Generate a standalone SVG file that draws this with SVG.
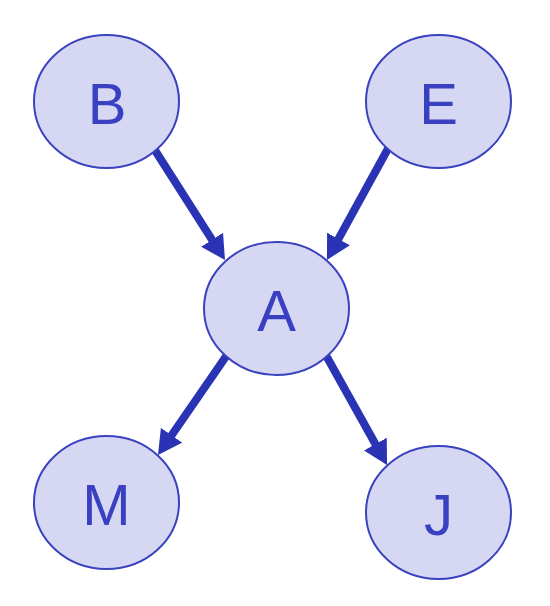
<svg xmlns="http://www.w3.org/2000/svg" width="550" height="606" viewBox="0 0 550 606">
  <style>
    .node ellipse { fill: #d6d8f3; stroke: #3a42c0; stroke-width: 2; }
    .node text { font-family: "Liberation Sans", Arial, sans-serif; font-size: 58px; fill: #3a40c2; text-anchor: middle; }
    .edge { stroke: #2b33b5; stroke-width: 8; fill: none; marker-end: url(#arrow); }
  </style>
  <defs>
    <marker id="arrow" markerUnits="userSpaceOnUse" viewBox="0 0 24 26" markerWidth="24" markerHeight="26" refX="6" refY="13" orient="auto">
      <path d="M0,0 L24,13 L0,26 z" fill="#2b33b5"/>
    </marker>
  </defs>
  <rect width="550" height="606" fill="#ffffff"/>
  <g id="connectors">
    <line class="edge" x1="151" y1="144" x2="215.3" y2="244.8"/>
    <line class="edge" x1="390" y1="145" x2="335.6" y2="244.2"/>
    <line class="edge" x1="227" y1="355" x2="168.2" y2="440.2"/>
    <line class="edge" x1="323" y1="350" x2="378.3" y2="449.3"/>
  </g>
  <g id="node-B" class="node">
    <ellipse cx="106.5" cy="101.5" rx="72.5" ry="66.5"/>
    <text x="107" y="124">B</text>
  </g>
  <g id="node-E" class="node">
    <ellipse cx="438.5" cy="101.5" rx="72.5" ry="66.5"/>
    <text x="438.5" y="124">E</text>
  </g>
  <g id="node-A" class="node">
    <ellipse cx="276.5" cy="308.5" rx="72.5" ry="66.5"/>
    <text x="276.5" y="331">A</text>
  </g>
  <g id="node-M" class="node">
    <ellipse cx="106.5" cy="502.5" rx="72.5" ry="66.5"/>
    <text x="106.5" y="525">M</text>
  </g>
  <g id="node-J" class="node">
    <ellipse cx="438.5" cy="512.5" rx="72.5" ry="66.5"/>
    <text x="438.5" y="535">J</text>
  </g>
</svg>
